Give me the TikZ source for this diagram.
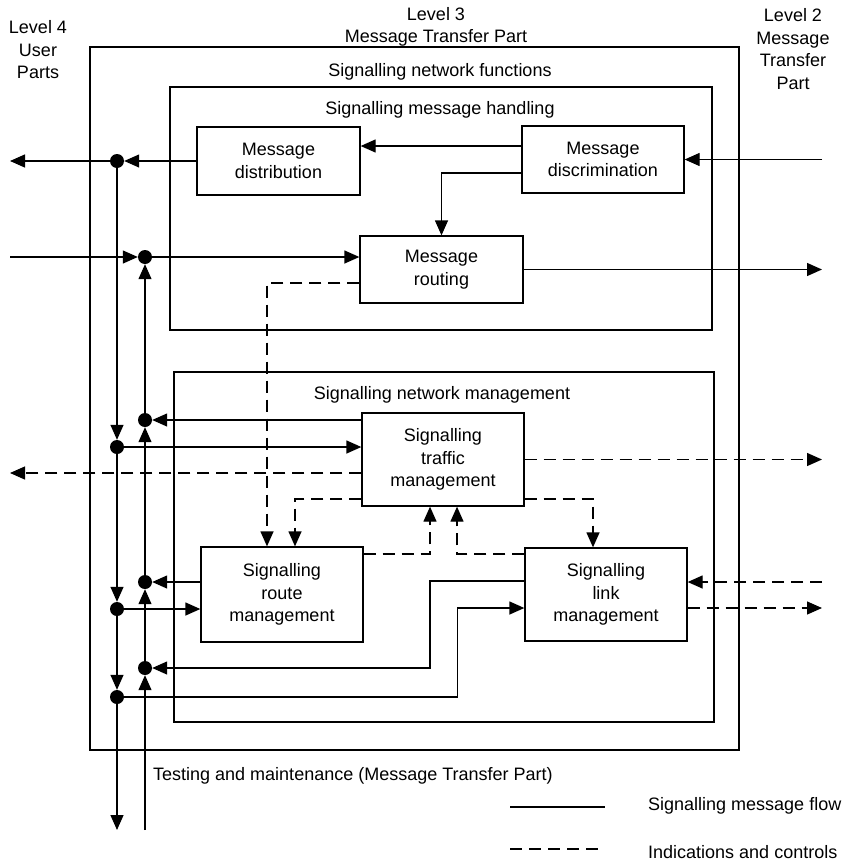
\documentclass[tikz,border=0pt]{standalone}
\usepackage{fontspec}
\setmainfont{Liberation Sans}
\usetikzlibrary{arrows.meta}

\begin{document}
\begin{tikzpicture}[x=1pt,y=-1pt,
  every node/.style={font=\fontsize{18}{22.5}\selectfont},
  txt/.style={align=center, inner sep=0pt},
  frame/.style={draw, line width=1.3pt, inner sep=0pt},
  box/.style={draw, line width=1.3pt, align=center, inner sep=0pt, fill=white},
  dot/.style={circle, fill=black, inner sep=0pt, minimum size=14pt},
  tip/.style={-{Triangle[length=15pt,width=13pt]}},
  flow/.style={line width=1.3pt},
  ctl/.style={line width=1.3pt, dash pattern=on 12pt off 7pt}
]
% page
\fill[white] (0,0) rectangle (842,865);
\useasboundingbox (0,0) rectangle (842,865);

% level headings
\node[txt] (lv4) at (38,50) {Level 4\\User\\Parts};
\node[txt] (lv3) at (436,27) {Level 3\\Message Transfer Part};
\node[txt] (lv2) at (793,49) {Level 2\\Message\\Transfer\\Part};

% nested frames
\node[frame, minimum width=649pt, minimum height=703pt] (mtp) at (414.5,398.5) {};
\node[frame, minimum width=542pt, minimum height=243pt] (smh) at (441,208.5) {};
\node[frame, minimum width=540pt, minimum height=350pt] (snm) at (444,547) {};
\node[txt] (snf) at (440,72) {Signalling network functions};
\node[txt] (smhl) at (440,110) {Signalling message handling};
\node[txt] (snml) at (442,395) {Signalling network management};

% function blocks
\node[box, minimum width=163pt, minimum height=68pt] (dist) at (278.5,161) {Message\\distribution};
\node[box, minimum width=162pt, minimum height=67pt] (disc) at (603,159.5) {Message\\discrimination};
\node[box, minimum width=163pt, minimum height=67pt] (rout) at (441.5,269.5) {Message\\routing};
\node[box, minimum width=162pt, minimum height=93pt] (traf) at (443,459.5) {Signalling\\traffic\\management};
\node[box, minimum width=162pt, minimum height=95pt] (route) at (282,594.5) {Signalling\\route\\management};
\node[box, minimum width=162pt, minimum height=93pt] (link) at (606,594.5) {Signalling\\link\\management};

% junction points on the two vertical trunks
\node[dot] (d1) at (117,161) {};
\node[dot] (d2) at (145,257) {};
\node[dot] (d3) at (145,420) {};
\node[dot] (d4) at (117,447) {};
\node[dot] (d5) at (145,582) {};
\node[dot] (d6) at (117,609) {};
\node[dot] (d7) at (145,668) {};
\node[dot] (d8) at (117,697) {};

% free ends at the edges
\coordinate (l4out) at (10,161);
\coordinate (l4in) at (10,257);
\coordinate (l4ctl) at (10,473);
\coordinate (l2in) at (822,159.5);
\coordinate (l2ctlin) at (822,582);
\coordinate (tA) at (117,830);
\coordinate (tB) at (145,830);

% message handling
\coordinate (h1) at ([yshift=13.5pt]disc.west);
\draw[flow,tip] (h1) -- (h1 -| dist.east);
\draw[flow,tip] ([yshift=-13.5pt]disc.west) -| (rout.north);
\draw[flow,tip] (l2in) -- (disc.east);
\draw[flow,tip] (rout.east) -- (rout.east -| l2in);
\draw[flow,tip] (dist.west |- d1) -- (d1);
\draw[flow,tip] (d1) -- (l4out);
\draw[flow,tip] (l4in) -- (d2);
\draw[flow,tip] (d2) -- (rout.west |- d2);

% trunk towards the user parts / testing
\draw[flow,tip] (d1) -- (d4);
\draw[flow,tip] (d4) -- (d6);
\draw[flow,tip] (d6) -- (d8);
\draw[flow,tip] (d8) -- (tA);
% trunk from testing and maintenance
\draw[flow,tip] (tB) -- (d7);
\draw[flow,tip] (d7) -- (d5);
\draw[flow,tip] (d5) -- (d3);
\draw[flow,tip] (d3) -- (d2);

% management message flows
\draw[flow,tip] (traf.west |- d3) -- (d3);
\draw[flow,tip] (d4) -- (traf.west |- d4);
\draw[flow,tip] (route.west |- d5) -- (d5);
\draw[flow,tip] (d6) -- (route.west |- d6);
\draw[flow,tip] ([yshift=13.5pt]link.west) -| ([xshift=285pt]d7.center) -- (d7);
\draw[flow,tip] (d8) -| ([xshift=-67pt,yshift=-13.5pt]link.west) -- ([yshift=-13.5pt]link.west);

% indications and controls
\draw[ctl,tip] ([yshift=-13.5pt]rout.west) -| ([xshift=-15pt]route.north);
\coordinate (c1) at ([yshift=-13.5pt]traf.west);
\draw[ctl,tip] (c1) -- (c1 -| l4ctl);
\draw[ctl,tip] ([yshift=-39.5pt]traf.west) -| ([xshift=13pt]route.north);
\draw[ctl,tip] (traf.east) -- (traf.east -| l2in);
\draw[ctl,tip] ([yshift=-39.5pt]traf.east) -| ([xshift=-13pt]link.north);
\draw[ctl,tip] ([yshift=40.5pt]route.east) -| ([xshift=-13pt]traf.south);
\draw[ctl,tip] ([yshift=40.5pt]link.west) -| ([xshift=14pt]traf.south);
\draw[ctl,tip] (l2ctlin) -- (l2ctlin -| link.east);
\coordinate (c2) at ([yshift=-13.5pt]link.east);
\draw[ctl,tip] (c2) -- (c2 -| l2in);

% testing caption
\node[txt, anchor=west] (tm) at (153,776) {Testing and maintenance (Message Transfer Part)};

% legend
\coordinate (ls1) at (510,807);
\coordinate (le1) at (605,807);
\coordinate (ls2) at (510,849);
\coordinate (le2) at (605,849);
\draw[flow] (ls1) -- (le1);
\draw[ctl] (ls2) -- (le2);
\node[txt, anchor=west] (lg1) at (648,806) {Signalling message flow};
\node[txt, anchor=west] (lg2) at (648,852) {Indications and controls};
\end{tikzpicture}
\end{document}
